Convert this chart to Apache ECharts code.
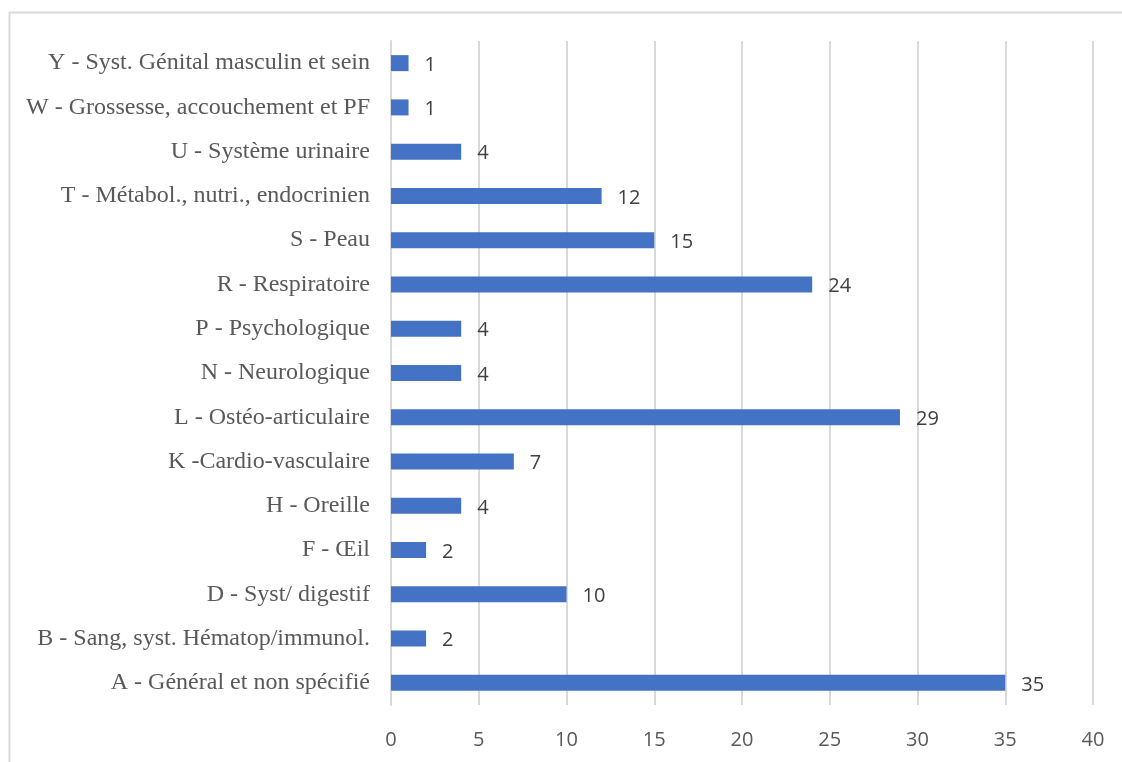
<!DOCTYPE html>
<html>
<head>
<meta charset="utf-8">
<title>Répartition par chapitre</title>
<script src="https://cdn.jsdelivr.net/npm/echarts@6/dist/echarts.min.js"></script>
<style>
    html, body { margin: 0; padding: 0; background: #fff; }
    #main { width: 1122px; height: 762px; }
</style>
</head>
<body>
<div id="main"></div>
<script>
// catégories (de bas en haut)
var categories = [
    'A - Général et non spécifié',
    'B - Sang, syst. Hématop/immunol.',
    'D - Syst/ digestif',
    'F - Œil',
    'H - Oreille',
    'K -Cardio-vasculaire',
    'L - Ostéo-articulaire',
    'N - Neurologique',
    'P - Psychologique',
    'R - Respiratoire',
    'S - Peau',
    'T - Métabol., nutri., endocrinien',
    'U - Système urinaire',
    'W - Grossesse, accouchement et PF',
    'Y - Syst. Génital masculin et sein'
];
var counts = [35, 2, 10, 2, 4, 7, 29, 4, 4, 24, 15, 12, 4, 1, 1];
var xMin = 0, xMax = 40, xStep = 5;

var chart = echarts.init(document.getElementById('main'));
var option = {
    animation: false,
    backgroundColor: '#fff',
    // cadre du graphique
    graphic: [{
        type: 'rect',
        shape: { x: 9.5, y: 12.5, width: 1200, height: 800 },
        style: { fill: 'none', stroke: '#d9d9d9', lineWidth: 2 },
        silent: true
    }],
    grid: { left: 391, right: 29, top: 41, bottom: 57, containLabel: false },
    xAxis: {
        type: 'value',
        min: xMin, max: xMax, interval: xStep,
        axisLine: { show: false },
        axisTick: { show: false },
        axisLabel: {
            margin: 25,
            color: '#595959',
            fontFamily: 'Open Sans',
            fontSize: 20
        },
        splitLine: { lineStyle: { color: '#d9d9d9', width: 2 } }
    },
    yAxis: {
        type: 'category',
        data: categories,
        axisLine: { show: true, lineStyle: { color: '#d9d9d9', width: 2 } },
        axisTick: { show: false },
        axisLabel: {
            margin: 21,
            color: '#595959',
            fontFamily: 'Liberation Serif',
            fontSize: 24
        }
    },
    series: [{
        type: 'bar',
        data: counts,
        barWidth: 16,
        itemStyle: { color: '#4472C4' },
        label: {
            show: true,
            position: 'right',
            distance: 16,
            offset: [0, 2],
            color: '#404040',
            fontFamily: 'Open Sans',
            fontSize: 20
        }
    }]
};
chart.setOption(option, true);
</script>
</body>
</html>
